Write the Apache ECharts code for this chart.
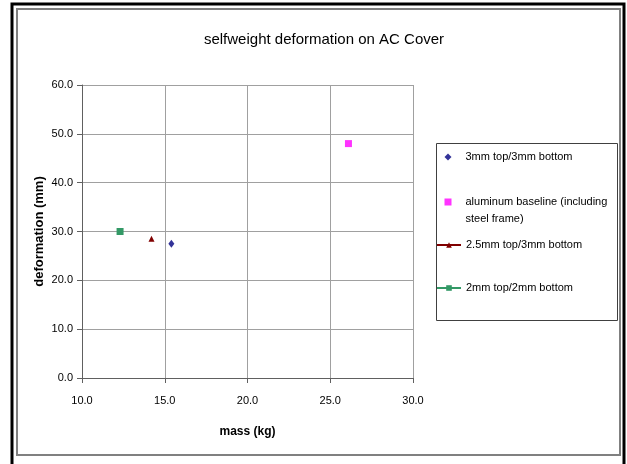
<!DOCTYPE html>
<html>
<head>
<meta charset="utf-8">
<script src="https://cdn.jsdelivr.net/npm/echarts@6/dist/echarts.min.js"></script>
<style>
    html, body { margin: 0; padding: 0; background: #fff; }
    #chartsmain { width: 627px; height: 464px; }
</style>
</head>
<body>
<div id="chartsmain"></div>
<script>
    // values
    var seriesNames = ['3mm top/3mm bottom', 'aluminum baseline (including steel frame)', '2.5mm top/3mm bottom', '2mm top/2mm bottom'];
    var massKg = [15.4, 26.1, 14.2, 12.3];
    var deformationMm = [27.5, 48.0, 28.5, 30.0];
    var xTicks = [10, 15, 20, 25, 30];
    var yTicks = [0, 10, 20, 30, 40, 50, 60];

    var font = 'Liberation Sans, Arial, sans-serif';
    var chart = echarts.init(document.getElementById('chartsmain'));

    // one legend per entry so each sits where excel put it
    function legendAt(name, top, isLine, extra) {
        var lg = {
            data: [name],
            left: isLine ? 436 : 444.5,
            top: top,
            padding: 0,
            itemWidth: isLine ? 24 : 7,
            itemHeight: 7,
            selectedMode: false,
            textStyle: { fontFamily: font, fontSize: 11, color: '#000', lineHeight: 14, padding: isLine ? 0 : [0, 0, 0, 9] }
        };
        if (extra) {
            for (var k in extra) lg[k] = extra[k];
        }
        return lg;
    }

    var option = {
        animation: false,
        backgroundColor: '#fff',
        title: {
            text: 'selfweight deformation on AC Cover',
            left: 319,
            top: 27,
            textAlign: 'center',
            textStyle: { fontFamily: font, fontSize: 15, fontWeight: 'normal', color: '#000' }
        },
        graphic: [
            { type: 'rect', shape: { x: 12, y: 4, width: 612, height: 470 }, style: { fill: 'none', stroke: '#000', lineWidth: 3 } },
            { type: 'rect', shape: { x: 17, y: 9, width: 603, height: 446 }, style: { fill: 'none', stroke: '#808080', lineWidth: 2 } },
            { type: 'rect', shape: { x: 436.5, y: 143.5, width: 181, height: 177 }, style: { fill: 'none', stroke: '#404040', lineWidth: 1 } }
        ],
        legend: [
            legendAt(seriesNames[0], 150, false),
            legendAt(seriesNames[1], 176.5, false, {
                formatter: function () { return ' \naluminum baseline (including\nsteel frame)'; },
                textStyle: { fontFamily: font, fontSize: 11, color: '#000', lineHeight: 17, padding: [0, 0, 0, 9] }
            }),
            legendAt(seriesNames[2], 238, true),
            legendAt(seriesNames[3], 281, true)
        ],
        grid: { left: 82, right: 214, top: 85, bottom: 86, show: false },
        xAxis: {
            type: 'value',
            min: xTicks[0],
            max: xTicks[xTicks.length - 1],
            interval: 5,
            name: 'mass (kg)',
            nameLocation: 'middle',
            nameGap: 48,
            nameTextStyle: { fontFamily: font, fontSize: 12, fontWeight: 'bold', color: '#000' },
            axisLine: { lineStyle: { color: '#606060', width: 1 } },
            axisTick: { show: true, length: 5, lineStyle: { color: '#606060' } },
            axisLabel: { margin: 17, fontFamily: font, fontSize: 11, color: '#000', formatter: function (v) { return v.toFixed(1); } },
            splitLine: { show: true, lineStyle: { color: '#a0a0a0', width: 1 } }
        },
        yAxis: {
            type: 'value',
            min: yTicks[0],
            max: yTicks[yTicks.length - 1],
            interval: 10,
            name: 'deformation (mm)',
            nameLocation: 'middle',
            nameGap: 36,
            nameMoveOverlap: false,
            nameTextStyle: { fontFamily: font, fontSize: 13, fontWeight: 'bold', color: '#000' },
            axisLine: { show: true, lineStyle: { color: '#606060', width: 1 } },
            axisTick: { show: true, length: 5, lineStyle: { color: '#606060' } },
            axisLabel: { margin: 9, fontFamily: font, fontSize: 11, color: '#000', formatter: function (v) { return v.toFixed(1); } },
            splitLine: { show: true, lineStyle: { color: '#a0a0a0', width: 1 } }
        },
        series: [
            {
                name: seriesNames[0],
                type: 'scatter',
                symbol: 'diamond',
                symbolSize: [6, 8],
                itemStyle: { color: '#000080' },
                data: [[massKg[0], deformationMm[0]]]
            },
            {
                name: seriesNames[1],
                type: 'scatter',
                symbol: 'rect',
                symbolSize: 7,
                itemStyle: { color: '#ff00ff' },
                data: [[massKg[1], deformationMm[1]]]
            },
            {
                name: seriesNames[2],
                type: 'line',
                symbol: 'triangle',
                symbolSize: 6,
                showSymbol: true,
                itemStyle: { color: '#800000' },
                lineStyle: { color: '#800000', width: 1 },
                data: [[massKg[2], deformationMm[2]]]
            },
            {
                name: seriesNames[3],
                type: 'line',
                symbol: 'rect',
                symbolSize: 7,
                showSymbol: true,
                itemStyle: { color: '#339966' },
                lineStyle: { color: '#339966', width: 1 },
                data: [[massKg[3], deformationMm[3]]]
            }
        ]
    };
    chart.setOption(option);
</script>
</body>
</html>
